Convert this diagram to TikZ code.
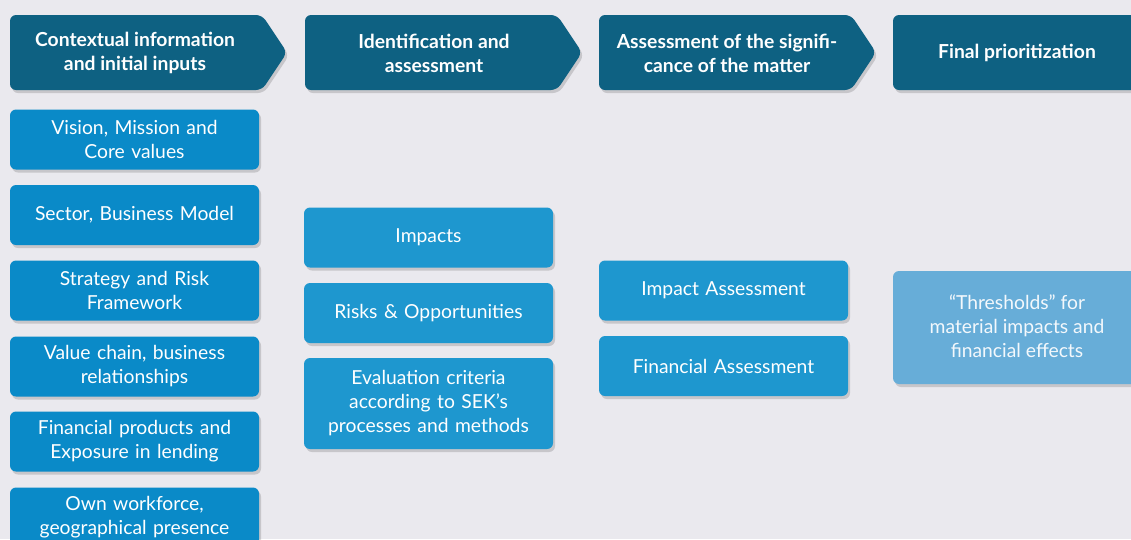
\documentclass[tikz,border=0pt]{standalone}
\usepackage{fontspec}
\setmainfont{Lato}
\usetikzlibrary{shadows}
\definecolor{bgc}{HTML}{EAE9EE}
\definecolor{headc}{HTML}{0E6182}
\definecolor{leftc}{HTML}{0A8AC8}
\definecolor{midc}{HTML}{1E97CF}
\definecolor{finc}{HTML}{67ADD8}
\tikzset{
  shad/.style={drop shadow={shadow xshift=2pt,shadow yshift=-3pt,opacity=0.15,fill=black}},
  box/.style={rounded corners=6pt,minimum width=249pt,minimum height=60pt,text width=240pt,align=center,
    text=white,font=\fontsize{19.3}{24}\selectfont,inner sep=0pt,shad},
  lbox/.style={box,fill=leftc},
  mbox/.style={box,fill=midc},
  fbox/.style={box,fill=finc,text=white!92!finc},
  headtxt/.style={text=white,align=center,font=\bfseries\fontsize{19.3}{24}\selectfont},
  headshape/.style={fill=headc,rounded corners=6pt,shad}
}
\begin{document}
\begin{tikzpicture}[x=1pt,y=-1pt]
\fill[bgc] (0,0) rectangle (1131,539);
\useasboundingbox (0,0) rectangle (1131,539);
\begin{scope}
\clip (0,0) rectangle (1131,539);
% headers
\foreach \xo in {10,305,599}{
  \path[headshape] (\xo,15) -- (\xo+252,15) -- (\xo+277,52.5) -- (\xo+252,90) -- (\xo,90) -- cycle;
}
\path[headshape] (893,15) rectangle (1145,90);
\node[headtxt] (h1) at (135,53) {Contextual information\\and initial inputs};
\node[headtxt] (h2) at (434,53) {Identification and\\assessment};
\node[headtxt] (h3) at (727,53) {Assessment of the signifi-\\cance of the matter};
\node[headtxt] (h4) at (1017,53) {Final prioritization};
% left column
\node[lbox] (l1) at (134.5,139.5) {Vision, Mission and\\Core values};
\node[lbox] (l2) at (134.5,215) {Sector, Business Model};
\node[lbox] (l3) at (134.5,290.5) {Strategy and Risk\\Framework};
\node[lbox] (l4) at (134.5,366.5) {Value chain, business\\relationships};
\node[lbox] (l5) at (134.5,441.5) {Financial products and\\Exposure in lending};
\node[lbox] (l6) at (134.5,517.5) {Own workforce,\\geographical presence};
% middle column
\node[mbox] (m1) at (428.5,237.5) {Impacts};
\node[mbox] (m2) at (428.5,313) {Risks \& Opportunities};
\node[mbox,minimum height=91pt] (m3) at (428.5,403.5) {Evaluation criteria\\according to SEK's\\processes and methods};
% third column
\node[mbox] (a1) at (723.5,290.5) {Impact Assessment};
\node[mbox] (a2) at (723.5,366) {Financial Assessment};
% final
\node[fbox,minimum width=252pt,minimum height=113pt] (f1) at (1019,327.5) {};
\node[text=white!92!finc,align=center,font=\fontsize{19.3}{24}\selectfont] (f1t) at (1017,326) {``Thresholds'' for\\material impacts and\\financial effects};
\end{scope}
\end{tikzpicture}
\end{document}
